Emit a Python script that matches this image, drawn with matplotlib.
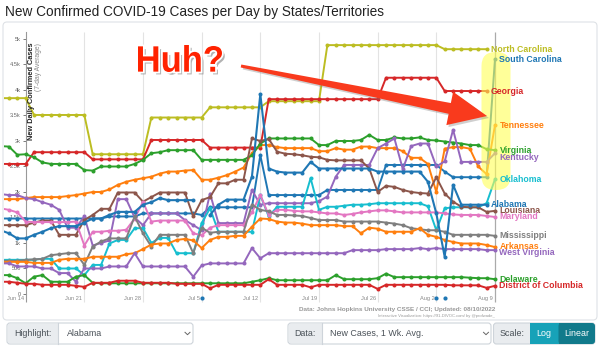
import matplotlib
matplotlib.use("Agg")
import matplotlib.pyplot as plt
import matplotlib.patheffects as pe
import matplotlib.dates as mdates
from matplotlib.patches import FancyBboxPatch, Polygon, Rectangle, PathPatch
from matplotlib.lines import Line2D
from matplotlib.transforms import IdentityTransform, Affine2D
from matplotlib.textpath import TextPath
from matplotlib.font_manager import FontProperties
import numpy as np
import pandas as pd

plt.rcParams['font.family'] = ['Liberation Sans', 'DejaVu Sans']

nan = np.nan
dates = pd.date_range('2022-06-11', '2022-08-09', freq='D')

# 7-day average of new cases, Jun 11 .. Aug 9
north_carolina = [3840, 3840, 3840, 3840, 3510, 3510, 3510, 3510, 3510, 3510, 3510,
                  2740, 2740, 2740, 2740, 2740, 2740, 2740, 3460, 3460, 3460,
                  3460, 3460, 3460, 3460, 3660, 3660, 3660, 3660, 3660, 3660,
                  3660, 3780, 3780, 3780, 3780, 3780, 3780, 3780, 4880, 4880,
                  4880, 4880, 4880, 4880, 4880, 4880, 4880, 4880, 4880, 4880,
                  4880, 4880, 4800, 4800, 4800, 4800, 4800, 4800, nan]
georgia = [2550, 2550, 2550, 2550, 2780, 2780, 2780, 2780, 2780, 2780, 2780,
           2640, 2640, 2640, 2640, 2640, 2640, 2640, 3020, 3020, 3020,
           3020, 3020, 3020, 3020, 2870, 2870, 2870, 2870, 2870, 2870,
           2870, 3820, 3820, 3820, 3820, 3820, 3820, 3820, 3820, 3820,
           3820, 3820, 3820, 3820, 3820, 4240, 4240, 4240, 4240, 4240,
           4240, 4240, 3980, 3980, 3980, 3980, 3980, 3980, nan]
south_carolina = [1480, 1480, 1480, 1480, 1480, 1480, 1480, 1480, 1480, 1480, 1480,
                  1480, 1480, 1520, 1520, 1520, 1520, 1580, 1580, 1580, 1580,
                  1580, 1580, 1580, 1550, 1700, 1700, 1700, 1700, 1700, 1700,
                  2720, 1940, 1940, 1940, 1940, 1940, 1940, 1940, 2040, 2040,
                  2040, 2040, 2040, 2040, 2040, 2530, 2530, 2530, 2530, 2530,
                  2530, 2530, 2400, 2290, 2290, 2290, 2290, 2290, 4600]
alabama = [1250, 1190, 1090, 1090, 1160, 1220, 1290, 1330, 1330, 1330, 1400,
           1480, 1480, 1550, 1610, 1610, 1610, 1750, 1800, 1880, 1840,
           1840, 1840, 1840, nan, 1550, 1750, 1850, 1850, 1850, 2300,
           3920, 2460, 2400, 2380, 2380, 2380, 2590, 2460, 2460, 2460,
           2460, 2460, 2460, 2460, 2400, 2400, 2400, 2400, 2400, 2400,
           2200, 1580, 730, 2140, 1750, 1750, 1750, 1750, nan]
virginia = [2900, 2890, 2730, 2740, 2680, 2580, 2550, 2550, 2550, 2550, 2430,
            2420, 2500, 2500, 2500, 2500, 2550, 2630, 2760, 2780, 2820,
            2820, 2820, 2820, 2630, 2630, 2630, 2630, 2630, 2630, 2720,
            2950, 3050, 3050, 3050, 3050, 3050, 3050, 2920, 2920, 3000,
            3000, 3000, 3020, 3120, 3020, 3020, 3070, 3050, 3050, 3070,
            3020, 3010, 2990, 2970, 2950, 2920, 2920, 2840, 2820]
tennessee = [1860, 1860, 1860, 1880, 1900, 1900, 1900, 1900, 1920, 1940, 1970,
             2000, 2000, 2050, 2140, 2200, 2240, 2270, 2300, 2360, 2400,
             2400, 2420, 2430, 2240, 2240, 2280, 2330, 2400, 2480, 2760,
             2920, 2920, 2880, 2860, 2860, 2860, 2860, 2800, 2800, 2860,
             2830, 2830, 2890, 2890, 2860, 2860, 2860, 2800, 2670, 2670,
             2550, 2000, 2850, 2880, 2880, 2850, 2500, 2350, 3310]
kentucky = [1960, 1940, 1940, 1880, 1860, 1800, 1750, 1650, 1300, 1300, 1520,
            950, 1000, 1050, 1860, 1860, 1500, 1350, 1580, 1580, 1580,
            1580, 1450, 1350, 1250, 1970, 1390, 1390, 1390, 1390, 2040,
            1750, 1780, 1780, 1780, 1780, 1780, 1780, 1820, 1910, 2300,
            2530, 2530, 2530, 2530, 2860, 2950, 3050, 2450, 2900, 2950,
            2950, 2500, 2600, 3220, 2590, 2590, 2590, 2590, 2760]
oklahoma = [670, 670, 670, 670, 670, 690, 690, 500, 500, 500, 370,
            570, 570, 990, 1060, 1060, 1290, 1290, 1000, 1100, 1100,
            800, 800, 800, 1390, 1680, 1220, 1220, 1220, 1220, 1220,
            1940, 1520, 1710, 1710, 1710, 1710, 2270, 1650, 1710, 1710,
            1730, 1750, 1750, 1760, 1780, 1780, 1780, 1780, 1780, 1780,
            1720, 1250, 1680, 1700, 1700, 1700, 1700, 1780, 2250]
louisiana = [1350, 1350, 1350, 1350, 1400, 1440, 1440, 1160, 1160, 1160, 1450,
             1550, 1670, 1670, 1990, 1990, 1990, 1810, 1900, 1990, 1990,
             1990, 1990, 1520, 1840, 1900, 2170, 2170, 2240, 2240, 3050,
             3000, 3040, 2790, 2750, 2740, 2720, 2690, 2680, 2630, 2620,
             2620, 2620, 2620, 2460, 2000, 2120, 2100, 2040, 2000, 1980,
             1970, 2290, 1970, 1810, 1710, 1700, 1700, 1610, 1630]
maryland = [1680, 1650, 1600, 1420, 1410, 1410, 1410, 1410, 1410, 1420, 950,
            1220, 1220, 1240, 1240, 1260, 1480, 1810, 1420, 1440, 1440,
            1440, 1440, 1190, 1150, 1300, 1350, 1350, 1350, 1350, 1600,
            1940, 1550, 1650, 1650, 1630, 1620, 1620, 1600, 1580, 1580,
            1550, 1570, 1600, 1620, 1640, 1640, 1620, 1600, 1600, 1600,
            1600, 1600, 1580, 1560, 1550, 1550, 1550, 1530, 1510]
mississippi = [650, 650, 650, 670, 680, 690, 760, 780, 800, 800, 570,
               930, 1030, 1090, 1090, 1090, 1520, 1190, 930, 1160, 1160,
               1160, 1160, 800, 1300, 1200, 1220, 1220, 1220, 1220, 1750,
               1650, 1620, 1550, 1550, 1540, 1530, 1490, 1450, 1450, 1450,
               1420, 1420, 1420, 1420, 1420, 1400, 1380, 1350, 1290, 1270,
               1250, 1250, 1220, 1160, 1160, 1160, 1160, 1160, 1140]
arkansas = [620, 630, 630, 630, 610, 610, 610, 670, 690, 690, 690,
            730, 730, 730, 730, 780, 800, 880, 970, 990, 990,
            1060, 1080, 1050, 900, 1060, 1120, 1120, 1140, 1140, 1320,
            1480, 1470, 1420, 1400, 1400, 1380, 1350, 1350, 1350, 1350,
            1330, 1330, 1190, 1300, 1280, 1220, 1220, 1220, 1220, 1290,
            1160, 1120, 1060, 1020, 990, 990, 990, 960, 920]
west_virginia = [600, 600, 540, 540, 540, 500, 500, 410, 410, 240, 500,
                 500, 500, 540, 540, 540, 800, 540, 540, 540, 540,
                 540, 540, 340, 560, 600, 600, 600, 600, 600, 900,
                 700, 800, 800, 800, 800, 800, 800, 800, 800, 800,
                 800, 860, 860, 860, 860, 880, 880, 880, 880, 900,
                 880, 900, 880, 880, 880, 880, 880, 860, 860]
delaware = [370, 370, 310, 210, 340, 370, 240, 240, 240, 340, 370,
            220, 210, 210, 210, 210, 210, 210, 210, 210, 210,
            210, 210, 210, 210, 210, 210, 210, 210, 210, 240,
            270, 310, 270, 270, 270, 270, 270, 270, 270, 370,
            290, 290, 290, 290, 310, 400, 330, 330, 330, 330,
            330, 330, 330, 330, 330, 320, 310, 310, 290]
district_of_columbia = [240, 240, 220, 200, 200, 180, 180, 180, 180, 160, 140,
                        220, 220, 220, 260, 260, 260, 220, 220, 220, 220,
                        200, 200, 200, 200, 110, 180, 180, 180, 180, 180,
                        180, 290, 180, 180, 180, 180, 130, 180, 180, 180,
                        180, 180, 180, 180, 100, 180, 180, 180, 180, 180,
                        180, 180, 180, 170, 170, 170, 170, 120, 160]

# Alabama days with no usable report, shown as dots under the axis
alabama_gap_dates = pd.to_datetime(['2022-07-05', '2022-08-02', '2022-08-03'])

tick_dates = pd.date_range('2022-06-14', '2022-08-09', freq='7D')
tick_labels = ['Jun 14', 'Jun 21', 'Jun 28', 'Jul 5', 'Jul 12',
               'Jul 19', 'Jul 26', 'Aug 2', 'Aug 9']
y_ticks = [0, 500, 1000, 1500, 2000, 2500, 3000, 3500, 4000, 4500, 5000]
y_tick_labels = ['0', '500', '1k', '1.5k', '2k', '2.5k', '3k', '3.5k',
                 '4k', '4.5k', '5k']

series = [
    ('North Carolina', north_carolina, '#bcbd22'),
    ('South Carolina', south_carolina, '#1f77b4'),
    ('Georgia', georgia, '#d62728'),
    ('Tennessee', tennessee, '#ff7f0e'),
    ('Virginia', virginia, '#2ca02c'),
    ('Kentucky', kentucky, '#9467bd'),
    ('Oklahoma', oklahoma, '#17becf'),
    ('Louisiana', louisiana, '#8c564b'),
    ('Maryland', maryland, '#e377c2'),
    ('Mississippi', mississippi, '#7f7f7f'),
    ('Arkansas', arkansas, '#ff7f0e'),
    ('West Virginia', west_virginia, '#9467bd'),
    ('Delaware', delaware, '#2ca02c'),
    ('District of Columbia', district_of_columbia, '#d62728'),
    ('Alabama', alabama, '#1f77b4'),
]
# small vertical nudges (pixels) so end labels don't collide
label_nudge = {'Kentucky': -4, 'West Virginia': -2, 'Arkansas': 1}

W, H = 600, 346
fig = plt.figure(figsize=(W / 100, H / 100), dpi=100)
PX = IdentityTransform()


def fxy(x, y):
    return x / W, 1 - y / H


def rbox(x0, y0, x1, y1, fc, ec='none', r=3, lw=0.8, z=0, parent=None, **kw):
    p = FancyBboxPatch((x0, H - y1), x1 - x0, y1 - y0,
                       boxstyle=f'round,pad=0,rounding_size={r}',
                       fc=fc, ec=ec, lw=lw, transform=PX, zorder=z, **kw)
    if parent is None:
        fig.add_artist(p)
    else:
        parent.add_patch(p)
    return p


# page title and chart card
fig.text(*fxy(5, 12), 'New Confirmed COVID-19 Cases per Day by States/Territories',
         fontsize=9.8, color='#222', va='center', ha='left')
rbox(3, 22, 597, 320, fc='white', ec='#dee2e6', r=4, z=-5)

# plot area in pixels: x 4..500, y 32..294 (Jun 12 sits at x = 8.9, 8.38 px per day)
ax = fig.add_axes([4 / W, (H - 294) / H, 496 / W, 262 / H])
ax.patch.set_visible(False)
x = mdates.date2num(dates)
x0 = mdates.date2num(pd.Timestamp('2022-06-12'))
ax.set_xlim(x0 - 0.585, x0 + 58.6)
ax.set_ylim(0, 5137)

for s in ['top', 'right', 'bottom']:
    ax.spines[s].set_visible(False)
jun14 = mdates.date2num(tick_dates[0])
ax.spines['left'].set_position(('data', jun14))
ax.spines['left'].set_color('#999')
ax.spines['left'].set_linewidth(0.8)
ax.set_yticks(y_ticks)
ax.set_yticklabels(y_tick_labels)
ax.tick_params(axis='y', length=2.5, width=0.6, pad=1, labelsize=4.1,
               colors='#666')
ax.set_xticks([])

tx = mdates.date2num(tick_dates)
ax.vlines(tx[1:-1], -150, 5137, color='#e3e3e3', lw=0.8, zorder=0, clip_on=False)
ax.vlines([tx[-1]], -150, 5137, color='#aaa', lw=0.9, zorder=0, clip_on=False)
ax.vlines([tx[0]], -150, 0, color='#999', lw=0.8, zorder=0, clip_on=False)
ax.axhline(0, color='#e3e3e3', lw=0.6, zorder=0)
for t, lab in zip(tx, tick_labels):
    ax.annotate(lab, xy=(t, 0), xycoords=('data', 'axes fraction'),
                xytext=(-2, -2), textcoords='offset pixels', ha='right',
                va='top', fontsize=4.1, color='#888', annotation_clip=False)

# state lines
for name, vals, col in series:
    v = np.array(vals, dtype=float)
    hl = name == 'Alabama'
    ax.plot(x, v, color=col, lw=1.5 if hl else 1.4, marker='o',
            markersize=2.9, markeredgewidth=0, zorder=4 if hl else 3)
    last = np.where(~np.isnan(v))[0][-1]
    ax.annotate(name, xy=(x[last], v[last]), xytext=(4.5, label_nudge.get(name, 0)),
                textcoords='offset pixels', ha='left', va='center',
                fontsize=6.3, fontweight='bold', color=col, zorder=8,
                annotation_clip=False)

ax.plot(mdates.date2num(alabama_gap_dates), [-80] * len(alabama_gap_dates),
        'o', color='#1f77b4', markersize=3.0, markeredgewidth=0, clip_on=False,
        zorder=4)

# yellow highlight over the last day
rbox(481.5, 52, 510.5, 190, fc='#ffff55', r=14, z=6, parent=ax,
     alpha=0.6, clip_on=False)

# axis titles inside the plot
fig.text(*fxy(31.5, 43), 'New Daily Confirmed Cases', rotation=90, ha='center',
         va='top', fontsize=5.3, fontweight='bold', color='#222')
fig.text(*fxy(38.5, 43), '(7-day Average)', rotation=90, ha='center',
         va='top', fontsize=4.9, color='#888')

# source line
fig.text(*fxy(495, 310), 'Data: Johns Hopkins University CSSE / CCI; Updated: 08/10/2022',
         ha='right', va='center', fontsize=4.6, fontweight='bold', color='#999')
fig.text(*fxy(495, 316), 'Interactive Visualization: https://91-DIVOC.com/ by @profwade_',
         ha='right', va='center', fontsize=3.0, color='#999')

# red arrow pointing at the last-day jump
tail = np.array([241.0, 66.0])
tip = np.array([487.0, 116.0])
u = (tip - tail) / np.linalg.norm(tip - tail)
n = np.array([-u[1], u[0]])
base = tip - 38 * u
arrow_pts = [tail - 1.5 * n, base - 5.5 * n, base - 17 * n, tip,
             base + 17 * n, base + 5.5 * n, tail + 1.5 * n]
shadow = [(px + 2, H - (py + 2)) for px, py in arrow_pts]
fig.add_artist(Polygon(shadow, closed=True, fc='#777', ec='none', alpha=0.35,
                       transform=PX, zorder=9))
fig.add_artist(Polygon([(px, H - py) for px, py in arrow_pts], closed=True,
                       fc='#f93a1d', ec='none', transform=PX, zorder=10))

# "Huh?" squeezed into a condensed box: left 138, right 222, top 45, baseline 72
huh = TextPath((0, 0), 'Huh?', size=100,
               prop=FontProperties(family='Liberation Sans', weight='bold'))
bb = huh.get_extents()
squeeze = (Affine2D().translate(-bb.x0, -bb.y0)
           .scale(84 / bb.width, 27 / bb.height)
           .translate(138, H - 72))
fig.add_artist(PathPatch(squeeze.transform_path(huh), fc='#ff2200', ec='none',
                         transform=PX, zorder=11,
                         path_effects=[pe.SimplePatchShadow(offset=(2, -2), shadow_rgbFace='#666', alpha=0.5),
                                       pe.Stroke(linewidth=2.5, foreground='white'),
                                       pe.Normal()]))

# control bar
def chevron(cx, cy):
    fig.add_artist(Line2D([cx - 2.5, cx, cx + 2.5], [H - cy + 1.2, H - cy - 1.2, H - cy + 1.2],
                          color='#666', lw=0.7, transform=PX, zorder=3))

lab_kw = dict(fontsize=6.4, color='#495057', va='center')
rbox(7, 323, 193, 344, fc='white', ec='#ced4da', r=3, z=1)
fig.add_artist(Rectangle((7.6, H - 343.4), 50.4, 19.8, fc='#e9ecef', ec='none',
                         transform=PX, zorder=2))
fig.add_artist(Line2D([58, 58], [H - 344, H - 323], color='#ced4da', lw=0.8,
                      transform=PX, zorder=3))
fig.text(*fxy(14, 333.5), 'Highlight:', **lab_kw)
fig.text(*fxy(66.5, 333.5), 'Alabama', **lab_kw)
chevron(187.5, 333.5)

rbox(288, 323, 491, 344, fc='white', ec='#ced4da', r=3, z=1)
fig.add_artist(Rectangle((288.6, H - 343.4), 33, 19.8, fc='#e9ecef', ec='none',
                         transform=PX, zorder=2))
fig.add_artist(Line2D([321.5, 321.5], [H - 344, H - 323], color='#ced4da', lw=0.8,
                      transform=PX, zorder=3))
fig.text(*fxy(294.5, 333.5), 'Data:', **lab_kw)
fig.text(*fxy(330.5, 333.5), 'New Cases, 1 Wk. Avg.', **lab_kw)
chevron(486, 333.5)

rbox(493.5, 323, 595, 344, fc='#e9ecef', ec='#ced4da', r=3, z=1)
fig.add_artist(Rectangle((530, H - 344), 28.5, 21, fc='#17a2b8', ec='none',
                         transform=PX, zorder=2))
rbox(558.5, 323, 595, 344, fc='#117a8b', r=3, z=2)
fig.add_artist(Rectangle((558.5, H - 344), 5, 21, fc='#117a8b', ec='none',
                         transform=PX, zorder=2))
fig.text(*fxy(499.5, 333.5), 'Scale:', **lab_kw)
fig.text(*fxy(544, 333.5), 'Log', fontsize=6.4, color='white', va='center', ha='center', zorder=4)
fig.text(*fxy(576.5, 333.5), 'Linear', fontsize=6.4, color='white', va='center', ha='center', zorder=4)

fig.savefig('out.png', dpi=100)
